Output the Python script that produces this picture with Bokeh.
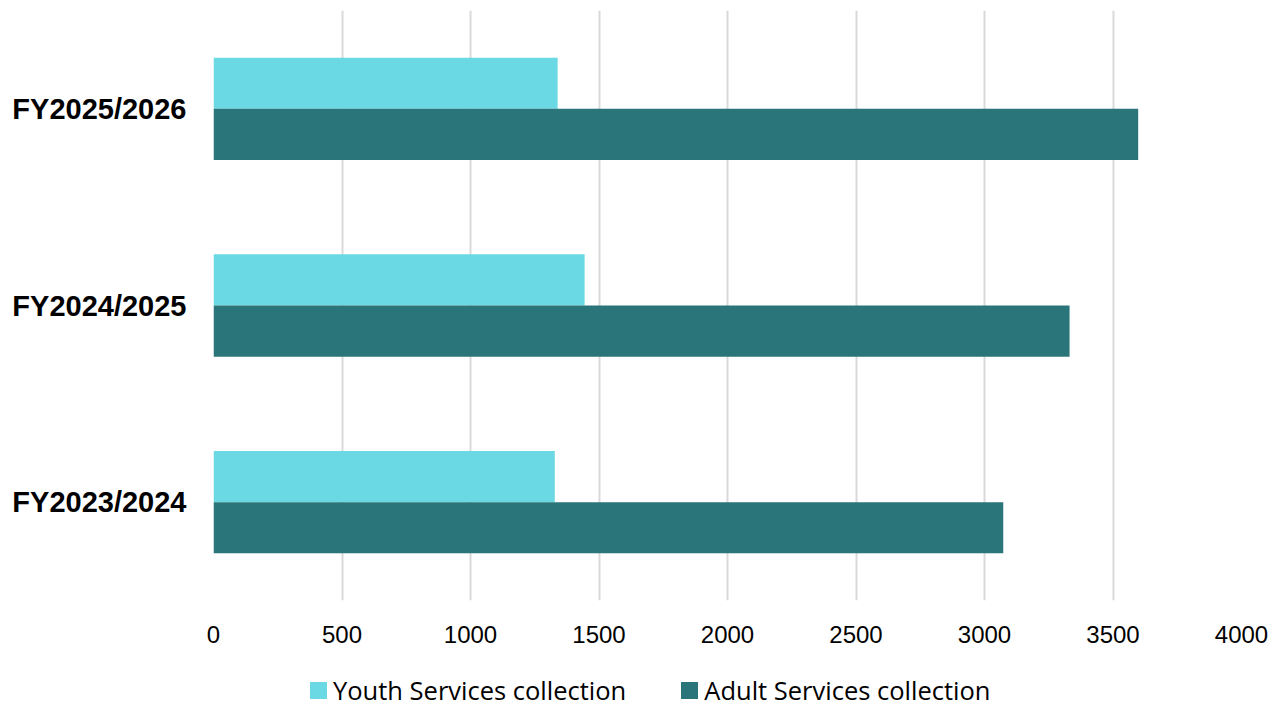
from bokeh.plotting import figure
from bokeh.models import FactorRange, ColumnDataSource, FixedTicker, Range1d, Div
from bokeh.layouts import column
from bokeh.transform import dodge
from bokeh.embed import file_html
from bokeh.resources import INLINE

categories = ["FY2023/2024", "FY2024/2025", "FY2025/2026"]
youth = [1328, 1444, 1339]
adult = [3073, 3331, 3598]
x_ticks = [0, 500, 1000, 1500, 2000, 2500, 3000, 3500, 4000]
series_names = ["Youth Services collection", "Adult Services collection"]
colors = ["#6AD9E3", "#2A7579"]

src = ColumnDataSource(dict(cat=categories, youth=youth, adult=adult))

p = figure(output_backend="svg", toolbar_location=None,
           y_range=FactorRange(*categories), x_range=Range1d(0, 4000),
           frame_width=1028, frame_height=590,
           min_border_left=213, min_border_top=10, min_border_right=30, min_border_bottom=68)

p.hbar(y=dodge("cat", 0.13, range=p.y_range), left=0, right="youth", height=0.26,
       source=src, fill_color=colors[0], line_color=None)
p.hbar(y=dodge("cat", -0.13, range=p.y_range), left=0, right="adult", height=0.26,
       source=src, fill_color=colors[1], line_color=None)

p.outline_line_color = None
p.xaxis.ticker = FixedTicker(ticks=x_ticks)
p.xaxis.axis_line_color = None
p.xaxis.major_tick_line_color = None
p.xaxis.minor_tick_line_color = None
p.xaxis.major_label_text_font = "Liberation Sans"
p.xaxis.major_label_text_font_size = "24px"
p.xaxis.major_label_text_color = "#000000"
p.xaxis.major_label_standoff = 19

p.yaxis.axis_line_color = None
p.yaxis.major_tick_line_color = None
p.yaxis.minor_tick_line_color = None
p.yaxis.major_label_text_font = "Liberation Sans"
p.yaxis.major_label_text_font_style = "bold"
p.yaxis.major_label_text_font_size = "29px"
p.yaxis.major_label_text_color = "#000000"
p.yaxis.major_label_standoff = 21

p.ygrid.grid_line_color = None
p.xgrid.grid_line_color = "#d9d9d9"
p.xgrid.grid_line_width = 2

def item(name, color, gap):
    sw = ('<span style="display:inline-block;width:17px;height:17px;background:%s;'
          'vertical-align:middle;margin-right:6px;margin-left:%dpx"></span>' % (color, gap))
    tx = '<span style="vertical-align:middle">%s</span>' % name
    return sw + tx

html = ('<div style="font-family:\'Open Sans\';font-size:25.5px;color:#000000;'
        'white-space:nowrap;line-height:30px;padding-top:4px">'
        + item(series_names[0], colors[0], 0)
        + item(series_names[1], colors[1], 55)
        + '</div>')
legend_div = Div(text=html, width=900, height=36, margin=(0, 0, 0, 310))

layout = column(p, legend_div, spacing=0)
open("out.html", "w").write(file_html(layout, INLINE))
